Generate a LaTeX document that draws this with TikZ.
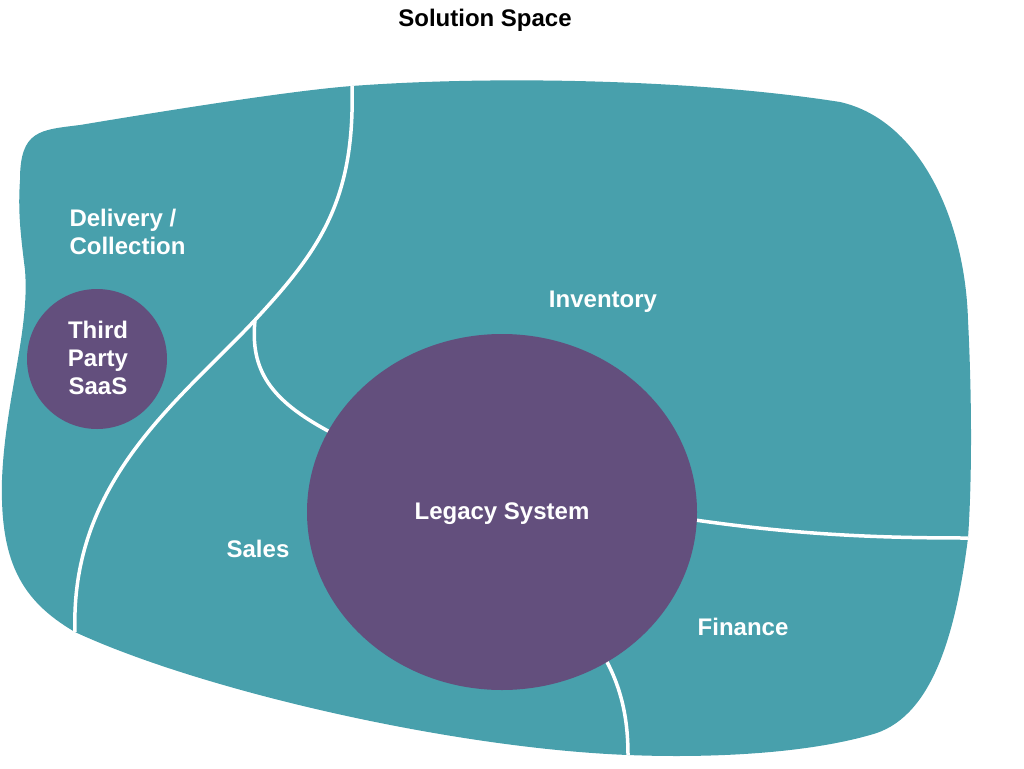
\documentclass[tikz,border=0pt]{standalone}
\usepackage{fontspec}
\usetikzlibrary{shapes.geometric}
\setmainfont{Liberation Sans}
\definecolor{teal1}{HTML}{48A0AC}
\definecolor{purp}{HTML}{634F7D}
\begin{document}
\begin{tikzpicture}[x=1pt,y=-1pt,
  lbl/.style={font=\fontsize{24}{28}\selectfont\bfseries,text=white,align=left},
  wl/.style={draw=white,line width=3.5pt}]
\useasboundingbox (0,0) rectangle (1024,768);
\fill[teal1] (20,180) .. controls (20,130) and (40,130) .. (80,125)
  .. controls (200,105) and (300,90) .. (352,86)
  .. controls (500,75) and (700,80) .. (840,102)
  .. controls (920,120) and (965,220) .. (968,320)
  .. controls (972,400) and (972,480) .. (968,538)
  .. controls (955,640) and (930,720) .. (870,735)
  .. controls (800,755) and (700,758) .. (628,755)
  .. controls (450,748) and (200,690) .. (75,632)
  .. controls (20,600) and (0,560) .. (2,480)
  .. controls (5,400) and (30,330) .. (25,270)
  .. controls (20,230) and (18,210) .. (20,180) -- cycle;
\coordinate (t) at (352,86);
\coordinate (br) at (255,320);
\coordinate (b) at (75,632);
\draw[wl] (t) .. controls (355,200) and (320,250) .. (br)
  .. controls (180,400) and (70,480) .. (b);
\draw[wl] (br) .. controls (250,370) and (270,400) .. (330,432);
\draw[wl] (695,520) .. controls (800,535) and (880,538) .. (968,538);
\draw[wl] (606,660) .. controls (622,690) and (628,720) .. (628,755);
\node[fill=purp,ellipse,minimum width=390pt,minimum height=356pt,inner sep=0] (ls) at (502,512) {};
\node[lbl] at (502,514) {Legacy System};
\node[fill=purp,circle,minimum size=140pt,inner sep=0] (tp) at (97,359) {};
\node[lbl,align=center] at (98,358) {Third\\Party\\SaaS};
\node[lbl,anchor=west] at (66,232) {Delivery /\\Collection};
\node[lbl] at (603,302) {Inventory};
\node[lbl] at (258,549) {Sales};
\node[lbl] at (743,627) {Finance};
\node[font=\fontsize{24}{28}\selectfont\bfseries] at (485,20) {Solution Space};
\end{tikzpicture}
\end{document}
